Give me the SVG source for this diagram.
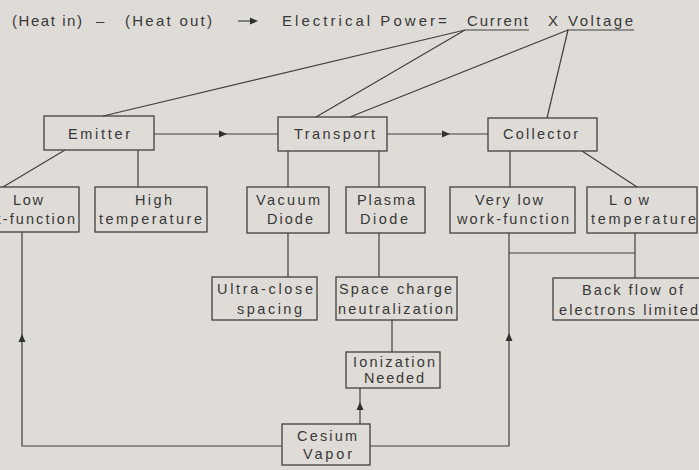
<svg xmlns="http://www.w3.org/2000/svg" xmlns:xlink="http://www.w3.org/1999/xlink" width="699" height="470" viewBox="0 0 699 470">
<style>
.bg{fill:#dfdcd7}
.box{fill:none;stroke:#404040;stroke-width:1.3}
.ln{fill:none;stroke:#404040;stroke-width:1.2}
.ah{fill:#303030}
text{font-family:"Liberation Sans",Arial,sans-serif;fill:#383838}
.t{font-size:14.5px}
.h{font-size:15px}
</style>
<defs>
<path id="ah" d="M0,0 L-8,-3.5 L-8,3.5 Z"/>
</defs>
<rect class="bg" x="0" y="0" width="699" height="470"/>

<g id="header">
<text class="h" x="12" y="26" textLength="70" lengthAdjust="spacing">(Heat in)</text>
<text class="h" x="96" y="26">–</text>
<text class="h" x="125" y="26" textLength="87" lengthAdjust="spacing">(Heat out)</text>
<text class="h" x="282" y="26" textLength="153" lengthAdjust="spacing">Electrical Power</text>
<text class="h" x="438" y="26">=</text>
<text class="h" x="467" y="26" textLength="61" lengthAdjust="spacing">Current</text>
<text class="h" x="548" y="26">X</text>
<text class="h" x="568" y="26" textLength="65" lengthAdjust="spacing">Voltage</text>
<line class="ln" x1="238" y1="21" x2="252" y2="21"/>
<use xlink:href="#ah" class="ah" transform="translate(258,21)"/>
<line class="ln" x1="465" y1="30" x2="529" y2="30"/>
<line class="ln" x1="567" y1="30" x2="634" y2="30"/>
</g>

<g id="connectors">
<line class="ln" x1="465" y1="30" x2="103" y2="116"/>
<line class="ln" x1="465" y1="30" x2="316" y2="117"/>
<line class="ln" x1="568" y1="30" x2="350" y2="117"/>
<line class="ln" x1="568" y1="30" x2="547" y2="118"/>
<line class="ln" x1="154" y1="134" x2="278" y2="134"/>
<use xlink:href="#ah" class="ah" transform="translate(227,134)"/>
<line class="ln" x1="387" y1="134" x2="488" y2="134"/>
<use xlink:href="#ah" class="ah" transform="translate(450,134)"/>
<line class="ln" x1="65" y1="150" x2="3" y2="187"/>
<line class="ln" x1="138" y1="150" x2="138" y2="187"/>
<line class="ln" x1="288" y1="151" x2="288" y2="187"/>
<line class="ln" x1="379" y1="151" x2="379" y2="187"/>
<line class="ln" x1="510" y1="151" x2="510" y2="187"/>
<line class="ln" x1="582" y1="151" x2="637" y2="187"/>
<line class="ln" x1="288" y1="233" x2="288" y2="277"/>
<line class="ln" x1="379" y1="233" x2="379" y2="277"/>
<line class="ln" x1="392" y1="320" x2="392" y2="352"/>
<line class="ln" x1="360" y1="424" x2="360" y2="388"/>
<use xlink:href="#ah" class="ah" transform="translate(360,402) rotate(-90)"/>
<polyline class="ln" points="282,446 22,446 22,232"/>
<use xlink:href="#ah" class="ah" transform="translate(22,334) rotate(-90)"/>
<polyline class="ln" points="370,446 509,446 509,233"/>
<use xlink:href="#ah" class="ah" transform="translate(509,333) rotate(-90)"/>
<line class="ln" x1="509" y1="253" x2="635" y2="253"/>
<line class="ln" x1="635" y1="233" x2="635" y2="278"/>
</g>

<g id="emitter">
<rect class="box" x="44" y="116" width="110" height="34"/>
<text class="t" x="68" y="139" textLength="62" lengthAdjust="spacing">Emitter</text>
</g>
<g id="transport">
<rect class="box" x="278" y="117" width="109" height="34"/>
<text class="t" x="294" y="139" textLength="81" lengthAdjust="spacing">Transport</text>
</g>
<g id="collector">
<rect class="box" x="488" y="118" width="109" height="33"/>
<text class="t" x="503" y="139" textLength="75" lengthAdjust="spacing">Collector</text>
</g>

<g id="low-work-function">
<rect class="box" x="-23" y="187" width="102" height="45"/>
<text class="t" x="13" y="205" textLength="30" lengthAdjust="spacing">Low</text>
<text class="t" x="-36" y="224" textLength="111" lengthAdjust="spacing">work-function</text>
</g>
<g id="high-temperature">
<rect class="box" x="95" y="187" width="112" height="45"/>
<text class="t" x="135" y="205" textLength="37" lengthAdjust="spacing">High</text>
<text class="t" x="99" y="224" textLength="103" lengthAdjust="spacing">temperature</text>
</g>
<g id="vacuum-diode">
<rect class="box" x="247" y="187" width="82" height="46"/>
<text class="t" x="256" y="205" textLength="64" lengthAdjust="spacing">Vacuum</text>
<text class="t" x="267" y="224" textLength="46" lengthAdjust="spacing">Diode</text>
</g>
<g id="plasma-diode">
<rect class="box" x="346" y="187" width="79" height="46"/>
<text class="t" x="357" y="205" textLength="58" lengthAdjust="spacing">Plasma</text>
<text class="t" x="360" y="224" textLength="48" lengthAdjust="spacing">Diode</text>
</g>
<g id="very-low-work-function">
<rect class="box" x="450" y="187" width="125" height="46"/>
<text class="t" x="475" y="205" textLength="68" lengthAdjust="spacing">Very low</text>
<text class="t" x="457" y="224" textLength="112" lengthAdjust="spacing">work-function</text>
</g>
<g id="low-temperature">
<rect class="box" x="587" y="187" width="110" height="46"/>
<text class="t" x="609" y="205" textLength="40" lengthAdjust="spacing">Low</text>
<text class="t" x="591" y="224" textLength="105" lengthAdjust="spacing">temperature</text>
</g>

<g id="ultra-close-spacing">
<rect class="box" x="212" y="277" width="105" height="43"/>
<text class="t" x="217" y="294" textLength="96" lengthAdjust="spacing">Ultra-close</text>
<text class="t" x="237" y="314" textLength="65" lengthAdjust="spacing">spacing</text>
</g>
<g id="space-charge-neutralization">
<rect class="box" x="336" y="277" width="121" height="43"/>
<text class="t" x="339" y="294" textLength="113" lengthAdjust="spacing">Space charge</text>
<text class="t" x="338" y="314" textLength="115" lengthAdjust="spacing">neutralization</text>
</g>
<g id="back-flow">
<rect class="box" x="553" y="278" width="160" height="42"/>
<text class="t" x="582" y="295" textLength="101" lengthAdjust="spacing">Back flow of</text>
<text class="t" x="559" y="315" textLength="139" lengthAdjust="spacing">electrons limited</text>
</g>
<g id="ionization-needed">
<rect class="box" x="346" y="352" width="94" height="36"/>
<text class="t" x="353" y="367" textLength="82" lengthAdjust="spacing">Ionization</text>
<text class="t" x="364" y="383" textLength="60" lengthAdjust="spacing">Needed</text>
</g>
<g id="cesium-vapor">
<rect class="box" x="282" y="424" width="88" height="41"/>
<text class="t" x="297" y="441" textLength="60" lengthAdjust="spacing">Cesium</text>
<text class="t" x="303" y="459" textLength="49" lengthAdjust="spacing">Vapor</text>
</g>
</svg>
